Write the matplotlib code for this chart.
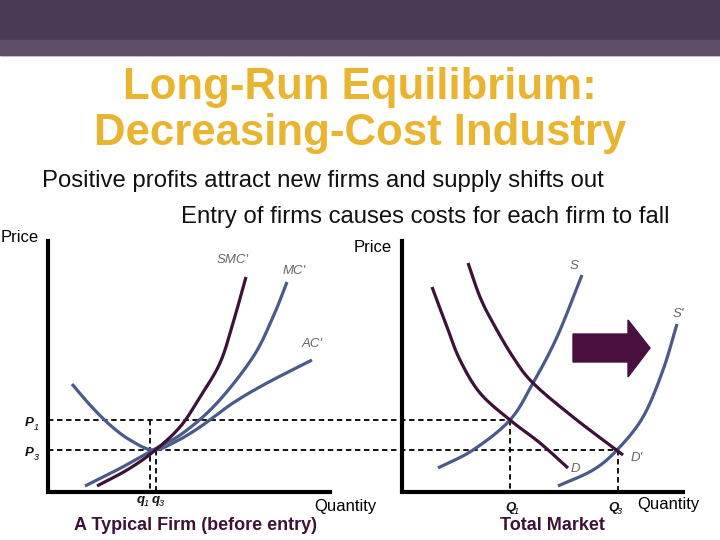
import numpy as np
import matplotlib
matplotlib.use("Agg")
import matplotlib.pyplot as plt
from matplotlib.patches import Polygon, Rectangle

plt.rcParams['font.family'] = ['Liberation Sans', 'DejaVu Sans']

# curve control points (pixel coordinates)
AC_x = [72, 90, 110, 130, 153, 175, 200, 233, 267, 312]
AC_y = [384, 405, 425, 440, 450, 442, 427, 403, 383, 360]
MC_x = [85, 117, 153, 183, 217, 253, 273, 287]
MC_y = [486, 470, 450, 433, 403, 357, 317, 282]
SMC_x = [97, 127, 153, 180, 200, 220, 233, 246]
SMC_y = [486, 470, 452, 427, 397, 363, 323, 277]
S_x = [438, 473, 510, 533, 557, 582]
S_y = [468, 450, 420, 383, 337, 275]
S2_x = [558, 593, 617, 643, 663, 677]
S2_y = [486, 470, 450, 417, 370, 324]
D_x = [432, 447, 460, 480, 510, 540, 568]
D_y = [287, 327, 360, 393, 420, 443, 468]
D2_x = [468, 480, 493, 513, 533, 573, 623]
D2_y = [263, 297, 323, 357, 383, 417, 455]

P1, P3 = 420, 450
q1, q3 = 150, 156
Q1, Q3 = 510, 618

BLUE = '#4b5a88'
PURP = '#3e1238'
GOLD = '#e9b530'

def smooth(xs, ys, n=20):
    p = np.column_stack([xs, ys]).astype(float)
    p = np.vstack([2*p[0]-p[1], p, 2*p[-1]-p[-2]])
    out = []
    for i in range(1, len(p)-2):
        p0, p1, p2, p3 = p[i-1], p[i], p[i+1], p[i+2]
        for t in np.linspace(0, 1, n, endpoint=False):
            out.append(0.5*((2*p1) + (-p0+p2)*t + (2*p0-5*p1+4*p2-p3)*t**2 + (-p0+3*p1-3*p2+p3)*t**3))
    out.append(p[-2])
    out = np.array(out)
    return out[:, 0], out[:, 1]

fig = plt.figure(figsize=(7.2, 5.4), dpi=100)
ax = fig.add_axes([0, 0, 1, 1])
ax.set_xlim(0, 720); ax.set_ylim(540, 0); ax.axis('off')

# banner
ax.add_patch(Rectangle((0, 0), 720, 55, color='#4a3a55', zorder=0))
ax.add_patch(Rectangle((0, 40), 720, 15, color='#5e4e68', zorder=0))

ax.text(360, 88, 'Long-Run Equilibrium:', ha='center', va='center', color=GOLD, fontsize=31.5, fontweight='bold')
ax.text(360, 133, 'Decreasing-Cost Industry', ha='center', va='center', color=GOLD, fontsize=31.5, fontweight='bold')
ax.text(42, 181, 'Positive profits attract new firms and supply shifts out', ha='left', va='center', fontsize=17.2, color='#111')
ax.text(181, 217, 'Entry of firms causes costs for each firm to fall', ha='left', va='center', fontsize=17.2, color='#111')

# axes
ax.plot([48, 48, 330], [241, 492, 492], color='black', lw=3, solid_joinstyle='miter')
ax.plot([402, 402, 683], [241, 492, 492], color='black', lw=3, solid_joinstyle='miter')
ax.text(1, 237, 'Price', fontsize=12, va='center')
ax.text(354, 248, 'Price', fontsize=12, va='center')
ax.text(314, 507, 'Quantity', fontsize=12, va='center')
ax.text(637, 505, 'Quantity', fontsize=12, va='center')
ax.text(195, 525, 'A Typical Firm (before entry)', ha='center', fontsize=13, fontweight='bold', color='#3e1238', va='center')
ax.text(552, 525, 'Total Market', ha='center', fontsize=13, fontweight='bold', color='#3e1238', va='center')

# dashed guides
dk = dict(color='black', lw=1.3, ls=(0, (3, 2)))
ax.plot([48, Q1], [P1, P1], **dk)
ax.plot([48, Q3], [P3, P3], **dk)
ax.plot([q1, q1], [P1, 492], **dk)
ax.plot([q3, q3], [P3, 492], **dk)
ax.plot([Q1, Q1], [P1, 492], **dk)
ax.plot([Q3, Q3], [P3, 492], **dk)

for xs, ys, c in [(AC_x, AC_y, BLUE), (MC_x, MC_y, BLUE), (SMC_x, SMC_y, PURP),
                  (S_x, S_y, BLUE), (S2_x, S2_y, BLUE), (D_x, D_y, PURP), (D2_x, D2_y, PURP)]:
    sx, sy = smooth(xs, ys)
    ax.plot(sx, sy, color=c, lw=2.3, solid_capstyle='butt')

lab = dict(fontsize=9.5, style='italic', color='#666', va='center')
ax.text(217, 260, 'SMC\'', **lab)
ax.text(283, 271, 'MC\'', **lab)
ax.text(302, 344, 'AC\'', **lab)
ax.text(570, 266, 'S', **lab)
ax.text(673, 314, 'S\'', **lab)
ax.text(571, 469, 'D', **lab)
ax.text(631, 458, 'D\'', **lab)

pl = dict(fontsize=9.5, style='italic', fontweight='bold', color='#111', va='center')
ax.text(25, 423, 'P', **pl); ax.text(34, 427, '1', fontsize=6.5, style='italic', va='center')
ax.text(25, 453, 'P', **pl); ax.text(34, 457, '3', fontsize=6.5, style='italic', va='center')
ax.text(137, 500, 'q', **pl); ax.text(144, 503, '1', fontsize=6.5, style='italic', va='center')
ax.text(152, 500, 'q', **pl); ax.text(159, 503, '3', fontsize=6.5, style='italic', va='center')
ax.text(505, 508, 'Q', **pl); ax.text(514, 511, '1', fontsize=6.5, style='italic', va='center')
ax.text(608, 508, 'Q', **pl); ax.text(617, 511, '3', fontsize=6.5, style='italic', va='center')

ax.add_patch(Polygon([[573, 334], [628, 334], [628, 320], [650, 348], [628, 377], [628, 362], [573, 362]],
                     closed=True, color='#4a1040'))

fig.savefig('out.png', dpi=100)
